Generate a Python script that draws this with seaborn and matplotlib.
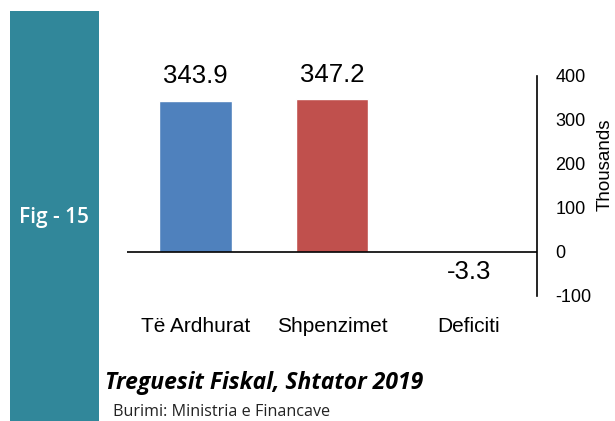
import matplotlib
matplotlib.use("Agg")
import matplotlib.pyplot as plt
import seaborn as sns
import pandas as pd
from matplotlib.patches import Rectangle

categories = ["Të Ardhurat", "Shpenzimet", "Deficiti"]
values = [343.9, 347.2, -3.3]
value_labels = ["343.9", "347.2", "-3.3"]
bar_colors = ["#4F81BD", "#C0504D", "#9BBB59"]
yticks = [-100, 0, 100, 200, 300, 400]
ytick_labels = ["-100", "0", "100", "200", "300", "400"]

sns.set_theme(style="white")
plt.rcParams["font.family"] = ["Liberation Sans", "DejaVu Sans"]

fig = plt.figure(figsize=(6.15, 4.21), dpi=100)
ax = fig.add_axes([0.2065, 0.297, 0.667, 0.5226])

df = pd.DataFrame({"cat": categories, "val": values})
sns.barplot(data=df, x="cat", y="val", hue="cat", palette=bar_colors,
            legend=False, width=0.53, ax=ax, saturation=1)

ax.set_xlim(-0.5, 2.5)
ax.set_ylim(-100, 400)
ax.axhline(0, color="black", lw=1.2, zorder=3)

for s in ["top", "left", "bottom"]:
    ax.spines[s].set_visible(False)
ax.spines["right"].set_color("black")
ax.spines["right"].set_linewidth(1.2)
ax.yaxis.tick_right()
ax.set_yticks(yticks)
ax.set_yticklabels(ytick_labels)
ax.tick_params(axis="y", length=0, pad=13, labelsize=13, colors="black")
ax.tick_params(axis="x", length=0, pad=15, labelsize=15, colors="black")
ax.set_xlabel("")
ax.set_ylabel("")

for i, (v, lab) in enumerate(zip(values, value_labels)):
    if v >= 0:
        ax.annotate(lab, (i, v), xytext=(0, 9), textcoords="offset points",
                    ha="center", va="bottom", fontsize=18.5, color="black")
    else:
        ax.annotate(lab, (i, v), xytext=(0, -5), textcoords="offset points",
                    ha="center", va="top", fontsize=18.5, color="black")

fig.text(605 / 615, 1 - 165 / 421, "Thousands", rotation=90, fontsize=13.5,
         ha="center", va="center", color="black")

fig.patches.append(Rectangle((10 / 615, 0), 89 / 615, 410 / 421,
                             transform=fig.transFigure, facecolor="#31879A",
                             edgecolor="none", zorder=0))
fig.text(54 / 615, 1 - 218 / 421, "Fig - 15", color="white", fontsize=15,
         fontweight=600, ha="center", va="center",
         family=["Open Sans", "DejaVu Sans"])
fig.text(105 / 615, 1 - 383 / 421, "Treguesit Fiskal, Shtator 2019",
         fontsize=16.5, fontweight="bold", style="italic", ha="left",
         va="center", color="black", family=["Open Sans", "DejaVu Sans"])
fig.text(113 / 615, 1 - 412 / 421, "Burimi: Ministria e Financave",
         fontsize=11.6, ha="left", va="center", color="#222222",
         family=["Open Sans", "DejaVu Sans"])

fig.savefig("out.png", dpi=100)
